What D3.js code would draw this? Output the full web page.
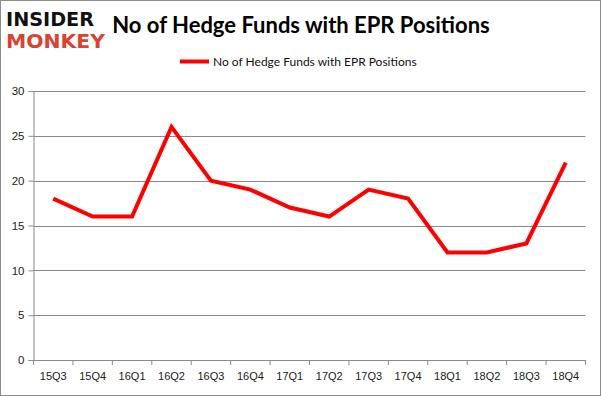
<!DOCTYPE html>
<html><head><meta charset="utf-8">
<script src="https://cdn.jsdelivr.net/npm/d3@7"></script>
<style>body{margin:0;background:#fff}svg{display:block}</style>
</head><body>
<script>
const categories = ["15Q3","15Q4","16Q1","16Q2","16Q3","16Q4","17Q1","17Q2","17Q3","17Q4","18Q1","18Q2","18Q3","18Q4"];
const values = [18,16,16,26,20,19,17,16,19,18,12,12,13,22];
const yTicks = [0,5,10,15,20,25,30];
const seriesName = "No of Hedge Funds with EPR Positions";
const title = "No of Hedge Funds with EPR Positions";

const W = 601, H = 396;
const svg = d3.select("body").append("svg").attr("width", W).attr("height", H);
svg.append("rect").attr("x",0.5).attr("y",0.5).attr("width",W-1).attr("height",H-1)
  .attr("fill","#fff").attr("stroke","#8c8c8c");

const L = 33.5, R = 585.5, T = 91, B = 360;
const x = d3.scaleBand().domain(categories).range([L, R]);
const y = d3.scaleLinear().domain([0,30]).range([B, T]);

// gridlines
svg.append("g").selectAll("line").data(yTicks.filter(d=>d>0)).join("line")
  .attr("x1",L).attr("x2",R).attr("y1",d=>Math.round(y(d))+0.5).attr("y2",d=>Math.round(y(d))+0.5)
  .attr("stroke","#8a8a8a").attr("stroke-width",1);

// y axis
const yAxis = svg.append("g").attr("transform",`translate(${L},0)`)
  .call(d3.axisLeft(y).tickValues(yTicks).tickSize(5).tickPadding(4));
yAxis.select(".domain").attr("stroke","#8a8a8a");
yAxis.selectAll(".tick line").attr("stroke","#8a8a8a");
yAxis.selectAll(".tick text").attr("font-family","'Liberation Sans', Arial, sans-serif").attr("font-size",11.5).attr("fill","#222");

// x axis
const xAxis = svg.append("g").attr("transform",`translate(0,${B})`)
  .call(d3.axisBottom(x).tickSize(0).tickPadding(12));
xAxis.select(".domain").attr("stroke","#8a8a8a");
xAxis.selectAll(".tick text").attr("font-family","'Liberation Sans', Arial, sans-serif").attr("font-size",11).attr("fill","#222");
svg.append("g").selectAll("line").data(d3.range(categories.length+1)).join("line")
  .attr("x1",i=>L + i*x.step()).attr("x2",i=>L + i*x.step())
  .attr("y1",B).attr("y2",B+5).attr("stroke","#8a8a8a");

// line
const line = d3.line().x((d,i)=>x(categories[i]) + x.bandwidth()/2).y(d=>y(d));
svg.append("path").datum(values).attr("d",line).attr("fill","none")
  .attr("stroke","#ff0000").attr("stroke-width",4).attr("stroke-linejoin","miter");

// title
svg.append("text").attr("x",301).attr("y",33).attr("text-anchor","middle")
  .attr("font-family","Lato, 'Open Sans', sans-serif").attr("font-weight","bold").attr("font-size",22)
  .attr("fill","#000").text(title);

// legend
svg.append("line").attr("x1",180).attr("x2",209).attr("y1",61.5).attr("y2",61.5)
  .attr("stroke","#ff0000").attr("stroke-width",4);
svg.append("text").attr("x",213).attr("y",65.5).attr("font-family","Lato, 'Open Sans', sans-serif")
  .attr("font-size",12).attr("fill","#111").text(seriesName);

// logo
svg.append("text").attr("x",6).attr("y",26).attr("font-family","'DejaVu Sans', sans-serif")
  .attr("font-weight","bold").attr("font-size",20).attr("textLength",88).attr("lengthAdjust","spacingAndGlyphs")
  .attr("fill","#111").text("INSIDER");
svg.append("text").attr("x",6).attr("y",48).attr("font-family","'DejaVu Sans', sans-serif")
  .attr("font-weight","bold").attr("font-size",20).attr("textLength",99).attr("lengthAdjust","spacingAndGlyphs")
  .attr("fill","#d9432f").text("MONKEY");
</script>
</body></html>
